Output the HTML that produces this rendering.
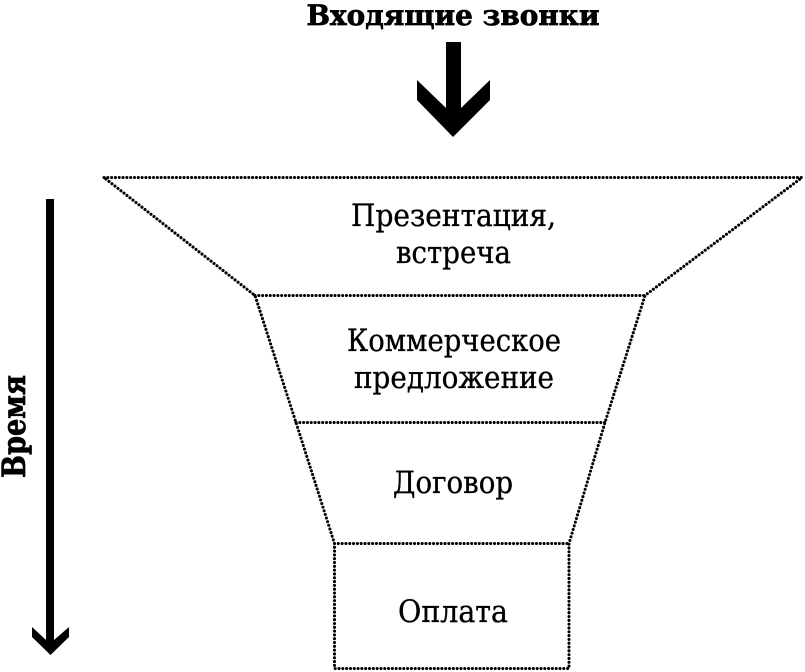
<!DOCTYPE html>
<html lang="ru"><head><meta charset="utf-8"><title>Воронка</title>
<style>
html,body{margin:0;padding:0;background:#fff;width:805px;height:672px;overflow:hidden}
svg{display:block;filter:blur(.3px)}
text{font-family:"DejaVu Serif","Liberation Serif",serif;fill:#000;font-size:30.500px;stroke:#000;stroke-width:.35px}
.b{font-weight:bold;font-size:28px;stroke-width:.7px}
.v{font-weight:bold;font-size:32px;stroke-width:.7px}
</style></head><body>
<svg width="805" height="672" viewBox="0 0 805 672" xmlns="http://www.w3.org/2000/svg">
<g fill="none" stroke="#000" stroke-width="3.100" stroke-dasharray="0.01 3.800" stroke-linecap="round" stroke-linejoin="round">
<path d="M104 177.500H802L645 295.500L605 422.500L569 543.500V668.500H334.500V543.500L296 422.500L255 295.500Z"/>
<path d="M255 295.500H645"/>
<path d="M296 422.500H605"/>
<path d="M334.500 543.500H569"/>
</g>
<polygon points="446,42 461,42 461,108 490,80 490,100 453,137 417,100 417,80 446,108" fill="#000"/>
<polygon points="46,199 54,199 54,640 69,627 69,637 50.500,655 32,637 32,627 46,640" fill="#000"/>
<text class="b" x="306.500" y="25" textLength="293" lengthAdjust="spacingAndGlyphs">Входящие звонки</text>
<text x="351" y="226" textLength="205" lengthAdjust="spacingAndGlyphs">Презентация,</text>
<text x="396" y="263" textLength="115" lengthAdjust="spacingAndGlyphs">встреча</text>
<text x="347" y="351" textLength="214" lengthAdjust="spacingAndGlyphs">Коммерческое</text>
<text x="354" y="388" textLength="200" lengthAdjust="spacingAndGlyphs">предложение</text>
<text x="393" y="493" textLength="120" lengthAdjust="spacingAndGlyphs">Договор</text>
<text x="398" y="622" textLength="110" lengthAdjust="spacingAndGlyphs">Оплата</text>
<text class="v" transform="translate(25 478) rotate(-90)" x="0" y="0" textLength="103" lengthAdjust="spacingAndGlyphs">Время</text>
</svg>
</body></html>
